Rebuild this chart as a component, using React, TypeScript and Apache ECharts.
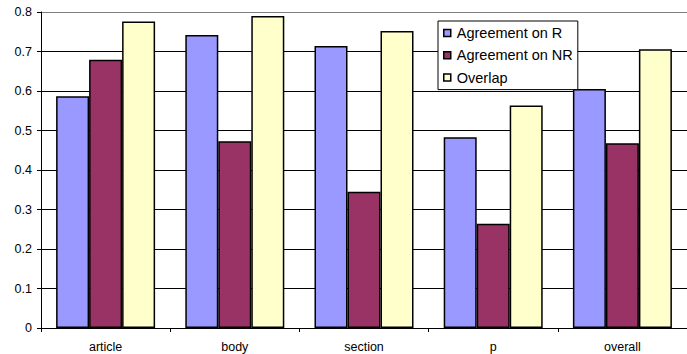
import React, { useEffect, useRef } from "react";
import * as echarts from "echarts";

const categories = ["article", "body", "section", "p", "overall"];
const agreementR = [0.587, 0.742, 0.714, 0.483, 0.605];
const agreementNR = [0.679, 0.473, 0.345, 0.264, 0.468];
const overlap = [0.776, 0.79, 0.752, 0.563, 0.706];
const seriesNames = ["Agreement on R", "Agreement on NR", "Overlap"];
const seriesColors = ["#9999FF", "#993366", "#FFFFCC"];

const FONT = "'Liberation Sans', Arial, sans-serif";

export default function App() {
  const ref = useRef<HTMLDivElement>(null);
  useEffect(() => {
    if (!ref.current) return;
    const chart = echarts.init(ref.current, undefined, { renderer: "svg" });
    const data = [agreementR, agreementNR, overlap];
    const gridColors = ["#000", "#000", "#000", "#000", "#000", "#000", "#000", "#000", "#808080"];
    chart.setOption({
      animation: false,
      backgroundColor: "#fff",
      textStyle: { fontFamily: FONT, color: "#000" },
      grid: { left: 41, top: 12, bottom: 26, right: -8.5, containLabel: false },
      legend: {
        orient: "vertical",
        left: 438,
        top: 21,
        padding: [4, 5, 4, 5],
        itemWidth: 7,
        itemHeight: 7,
        itemGap: 6.3,
        borderColor: "#000",
        borderWidth: 1,
        backgroundColor: "#fff",
        icon: "rect",
        data: seriesNames,
        textStyle: { fontFamily: FONT, fontSize: 14.5, color: "#000", lineHeight: 16, padding: [0, 0, 0, 1] },
        itemStyle: { borderColor: "#000", borderWidth: 1.5 },
      },
      xAxis: {
        type: "category",
        data: categories,
        axisLine: { lineStyle: { color: "#000", width: 1 } },
        axisTick: { show: true, alignWithLabel: false, length: 4, lineStyle: { color: "#000" } },
        axisLabel: { fontFamily: FONT, fontSize: 12.5, color: "#000", margin: 12 },
        splitLine: { show: false },
      },
      yAxis: {
        type: "value",
        min: 0,
        max: 0.8,
        interval: 0.1,
        axisLine: { show: true, lineStyle: { color: "#000", width: 1 } },
        axisTick: { show: true, length: 4, lineStyle: { color: "#000" } },
        axisLabel: {
          fontFamily: FONT,
          fontSize: 12.5,
          color: "#000",
          margin: 9,
          formatter: (v: number) => (v === 0 ? "0" : String(Math.round(v * 10) / 10)),
        },
        splitLine: { show: true, lineStyle: { color: gridColors, width: 1 } },
      },
      series: seriesNames.map((name, i) => ({
        name,
        type: "bar",
        data: data[i],
        barWidth: 33,
        barGap: "0%",
        itemStyle: { color: seriesColors[i], borderColor: "#000", borderWidth: 1.5 },
      })),
    });
    return () => chart.dispose();
  }, []);
  return (
    <div
      ref={ref}
      style={{ position: "absolute", left: 0, top: 0, width: 687, height: 354 }}
    />
  );
}
